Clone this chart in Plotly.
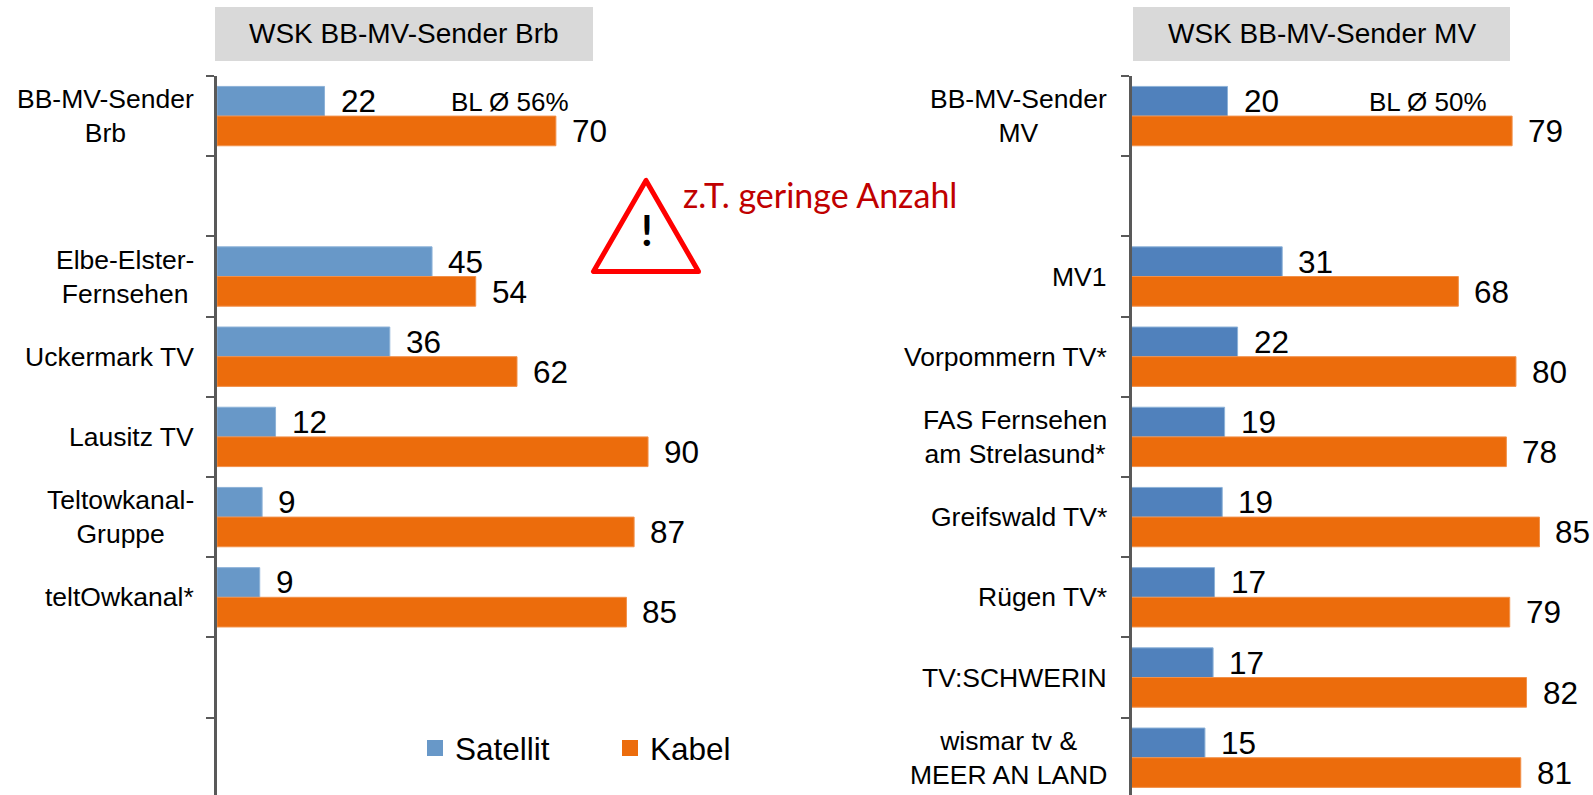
import plotly.graph_objects as go

W, H = 1593, 795

# Left panel
left_title = "WSK BB-MV-Sender Brb"
left_cats = ["BB-MV-Sender<br>Brb", " ", "Elbe-Elster-<br>Fernsehen", "Uckermark TV", "Lausitz TV",
             "Teltowkanal-<br>Gruppe", "teltOwkanal*", "  ", "   "]
left_sat = [22.4, None, 44.8, 36.0, 12.2, 9.4, 8.9, None, None]
left_kab = [70.6, None, 53.9, 62.5, 89.8, 86.9, 85.3, None, None]
left_sat_labels = ["22", "", "45", "36", "12", "9", "9", "", ""]
left_kab_labels = ["70", "", "54", "62", "90", "87", "85", "", ""]

# Right panel
right_title = "WSK BB-MV-Sender MV"
right_cats = ["BB-MV-Sender<br>MV", " ", "MV1", "Vorpommern TV*", "FAS Fernsehen<br>am Strelasund*",
              "Greifswald TV*", "Rügen TV*", "TV:SCHWERIN", "wismar tv &<br>MEER AN LAND"]
right_sat = [20.0, None, 31.4, 22.1, 19.4, 18.9, 17.3, 17.0, 15.3]
right_kab = [79.3, None, 68.1, 80.1, 78.1, 85.0, 78.8, 82.3, 81.1]
right_sat_labels = ["20", "", "31", "22", "19", "19", "17", "17", "15"]
right_kab_labels = ["79", "", "68", "80", "78", "85", "79", "82", "81"]

BLUE_L, BLUE_R, ORANGE = "#6898C8", "#5081BC", "#EC6C0C"
AXIS = "#595959"
FONT = "Liberation Sans"


def px(v):
    return v / W


def py(v):
    return 1 - v / H


fig = go.Figure()
for xa, ya, cats, sat, kab, blue in [
    ("x", "y", left_cats, left_sat, left_kab, BLUE_L),
    ("x2", "y2", right_cats, right_sat, right_kab, BLUE_R),
]:
    fig.add_trace(go.Bar(name="Satellit", y=cats, x=sat, orientation="h", xaxis=xa, yaxis=ya,
                         marker=dict(color=blue, line=dict(color="#8DB2D8", width=1)),
                         showlegend=False, hoverinfo="x+y"))
    fig.add_trace(go.Bar(name="Kabel", y=cats, x=kab, orientation="h", xaxis=xa, yaxis=ya,
                         marker=dict(color=ORANGE, line=dict(color="#F2914A", width=1)),
                         showlegend=False, hoverinfo="x+y"))

# Legend entries with the reference's larger square swatches
for name, color in [("Satellit", BLUE_L), ("Kabel", ORANGE)]:
    fig.add_trace(go.Scatter(name=name, x=[None], y=[None], mode="markers", xaxis="x", yaxis="y",
                             marker=dict(symbol="square", size=16, color=color), showlegend=True))

ann = []


def add_panel(xa, ya, cats, sat, kab, sat_lab, kab_lab, label_right):
    for i, c in enumerate(cats):
        if c.strip():
            ann.append(dict(text=c, xref="paper", yref=ya, x=px(label_right), y=i, xanchor="right",
                            yanchor="middle", align="center", showarrow=False,
                            font=dict(size=26.5, family=FONT, color="#000000")))
        for val, lab, shift in [(sat[i], sat_lab[i], -15), (kab[i], kab_lab[i], 15)]:
            if val is not None:
                ann.append(dict(text=lab, xref=xa, yref=ya, x=val, y=i, xanchor="left", yanchor="middle",
                                xshift=14, yshift=-shift, showarrow=False,
                                font=dict(size=31.5, family=FONT, color="#000000")))


add_panel("x", "y", left_cats, left_sat, left_kab, left_sat_labels, left_kab_labels, 196)
add_panel("x2", "y2", right_cats, right_sat, right_kab, right_sat_labels, right_kab_labels, 1109)

shapes = []
for x0, x1, cx, title in [(215, 593, 404, left_title), (1133, 1510, 1322, right_title)]:
    shapes.append(dict(type="rect", xref="paper", yref="paper", x0=px(x0), x1=px(x1), y0=py(61), y1=py(7),
                       fillcolor="#D9D9D9", line_width=0, layer="below"))
    ann.append(dict(text=title, xref="paper", yref="paper", x=px(cx), y=py(34), xanchor="center",
                    yanchor="middle", showarrow=False, font=dict(size=28, family=FONT, color="#000000")))

for text, cx in [("BL Ø 56%", 510), ("BL Ø 50%", 1428)]:
    ann.append(dict(text=text, xref="paper", yref="paper", x=px(cx), y=py(102), xanchor="center",
                    yanchor="middle", showarrow=False, font=dict(size=26, family=FONT, color="#000000")))

# Warning sign
tri = [(646, 180.5), (593.5, 271.5), (698.5, 271.5)]
path = "M" + " L".join(f"{px(a):.5f},{py(b):.5f}" for a, b in tri) + " Z"
shapes.append(dict(type="path", xref="paper", yref="paper", path=path, fillcolor="#FFFFFF",
                   line=dict(color="#FF0000", width=5)))
ann.append(dict(text="<b>!</b>", xref="paper", yref="paper", x=px(647), y=py(230), xanchor="center",
                yanchor="middle", showarrow=False, font=dict(size=42, family="Lato", color="#000000")))
ann.append(dict(text="z.T. geringe Anzahl", xref="paper", yref="paper", x=px(681), y=py(195), xanchor="left",
                yanchor="middle", showarrow=False, font=dict(size=34, family="Lato", color="#C00000")))


def yaxis(cats, anchor):
    return dict(type="category", categoryorder="array", categoryarray=cats, range=[8.465, -0.5],
                tickson="boundaries", ticks="outside", ticklen=8, tickwidth=2, tickcolor=AXIS,
                showticklabels=False, showline=True, linecolor=AXIS, linewidth=2.5, showgrid=False,
                zeroline=False, domain=[0, py(76)], anchor=anchor)


fig.update_layout(
    width=W, height=H, margin=dict(l=0, r=0, t=0, b=0),
    paper_bgcolor="#FFFFFF", plot_bgcolor="#FFFFFF",
    barmode="group", bargap=0.26, bargroupgap=0,
    font=dict(family=FONT, color="#000000"),
    xaxis=dict(domain=[px(217), px(697)], range=[0, 100], visible=False, anchor="y"),
    yaxis=yaxis(left_cats, "x"),
    xaxis2=dict(domain=[px(1131.5), 1], range=[0, 96.15], visible=False, anchor="y2"),
    yaxis2=yaxis(right_cats, "x2"),
    legend=dict(orientation="h", x=px(415), y=py(721), xanchor="left", yanchor="top",
                entrywidth=150, entrywidthmode="pixels", traceorder="normal",
                font=dict(size=31.5, family=FONT, color="#000000"), bgcolor="rgba(0,0,0,0)"),
    annotations=ann, shapes=shapes, hovermode="closest",
)

fig.write_html("out.html", config={"displayModeBar": False},
               post_script="document.body.style.margin='0';document.body.style.overflow='hidden';"
                           "document.querySelectorAll('.shapelayer path').forEach(function(p){p.style.strokeLinejoin='round';});")
